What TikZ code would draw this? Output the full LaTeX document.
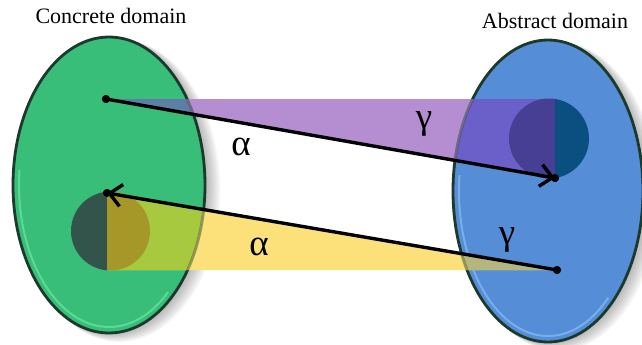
\documentclass[tikz,border=0pt]{standalone}
\usepackage{fontspec}
\setmainfont{Liberation Serif}
\usetikzlibrary{arrows.meta,shapes.geometric}
\definecolor{cgreen}{HTML}{39BE7A}
\definecolor{cblue}{HTML}{558DD6}
\definecolor{cout}{HTML}{1C3A2B}
\definecolor{rimgreen}{HTML}{72EDAA}
\definecolor{rimblue}{HTML}{8FC6FA}
\definecolor{purpW}{HTML}{B48ED1}
\definecolor{purpB}{HTML}{6B5FC9}
\definecolor{purpG}{HTML}{5E7EA6}
\definecolor{yelW}{HTML}{FCE079}
\definecolor{yelB}{HTML}{B5B57E}
\definecolor{yelG}{HTML}{A6C93F}
\definecolor{circPurp}{HTML}{463F94}
\definecolor{circBlue}{HTML}{0B4F80}
\definecolor{circDkGreen}{HTML}{33544A}
\definecolor{circOlive}{HTML}{A59828}
\tikzset{
  domainbox/.style={ellipse, draw=cout, line width=2.8pt, inner sep=0pt},
  dot/.style={circle, fill=black, inner sep=0pt, minimum size=8pt},
  arr/.style={line width=3.4pt, -{Straight Barb[length=12pt,width=22pt,line width=3.4pt]}},
  greek/.style={font=\fontsize{37}{37}\selectfont, inner sep=0pt},
  title/.style={font=\fontsize{22}{22}\selectfont, inner sep=0pt, anchor=base}
}
\begin{document}
\begin{tikzpicture}[x=1pt,y=-1pt]
\useasboundingbox (0,0) rectangle (642,345);
% shadows
\foreach \i in {1,...,8}{
  \fill[black,opacity=0.04] ({109+1.3*\i},{185+0.7*\i}) ellipse [x radius={96pt+0.6pt*\i}, y radius={148pt+0.4pt*\i}];
  \fill[black,opacity=0.04] ({548+1.3*\i},{191+0.7*\i}) ellipse [x radius={95pt+0.6pt*\i}, y radius={151pt+0.4pt*\i}];
}
% domains
\node[domainbox, fill=cgreen, minimum width=192pt, minimum height=296pt] (C) at (109,185) {};
\node[domainbox, fill=cblue, minimum width=190pt, minimum height=302pt] (A) at (548,191) {};
% rims
\begin{scope}
  \clip (0,170) -- (60,170) -- (215,345) -- (0,345) -- cycle;
  \draw[rimgreen, line width=2pt, opacity=0.6] (109,185) ellipse [x radius=90pt, y radius=142pt];
\end{scope}
\begin{scope}
  \clip (430,175) -- (500,175) -- (650,345) -- (430,345) -- cycle;
  \draw[rimblue, line width=2pt, opacity=0.6] (548,191) ellipse [x radius=89pt, y radius=145pt];
\end{scope}
% points
\node[dot] (a1) at (106,99) {};
\node[dot] (g1) at (555,178) {};
\node[dot] (a2) at (107,193) {};
\node[dot] (g2) at (557,270) {};
% purple band
\fill[purpW] (a1.center) -- (g1.center |- a1.center) -- (g1.center) -- cycle;
\begin{scope}
  \clip (548,191) ellipse [x radius=94pt, y radius=150pt];
  \fill[purpB] (a1.center) -- (g1.center |- a1.center) -- (g1.center) -- cycle;
\end{scope}
\begin{scope}
  \clip (109,185) ellipse [x radius=95pt, y radius=147pt];
  \fill[purpG] (a1.center) -- (g1.center |- a1.center) -- (g1.center) -- cycle;
\end{scope}
% yellow band
\fill[yelW] (a2.center) -- (g2.center) -- (a2.center |- g2.center) -- cycle;
\begin{scope}
  \clip (548,191) ellipse [x radius=94pt, y radius=150pt];
  \fill[yelB] (a2.center) -- (g2.center) -- (a2.center |- g2.center) -- cycle;
\end{scope}
\begin{scope}
  \clip (109,185) ellipse [x radius=95pt, y radius=147pt];
  \fill[yelG] (a2.center) -- (g2.center) -- (a2.center |- g2.center) -- cycle;
\end{scope}
% outlines seen through bands
\begin{scope}
  \clip (a1.center) -- (g1.center |- a1.center) -- (g1.center) -- cycle
        (a2.center) -- (g2.center) -- (a2.center |- g2.center) -- cycle;
  \draw[cout, line width=2.8pt, opacity=0.45] (109,185) ellipse [x radius=96pt, y radius=148pt];
  \draw[cout, line width=2.8pt, opacity=0.45] (548,191) ellipse [x radius=95pt, y radius=151pt];
\end{scope}
% half circles
\begin{scope}
  \clip (400,80) rectangle (g1.center |- 0,200);
  \fill[circPurp] (549,138.5) circle [radius=40pt];
\end{scope}
\begin{scope}
  \clip (g1.center |- 0,80) rectangle (620,200);
  \fill[circBlue] (549,138.5) circle [radius=40pt];
\end{scope}
\begin{scope}
  \clip (40,180) rectangle (a2.center |- 0,290);
  \fill[circDkGreen] (110.5,231) circle [radius=39.5pt];
\end{scope}
\begin{scope}
  \clip (a2.center |- 0,180) rectangle (170,290);
  \fill[circOlive] (110.5,231) circle [radius=39.5pt];
\end{scope}
% arrows
\draw[arr] (a1.center) -- (g1.center);
\draw[arr] (g2.center) -- (a2.center);
\node[dot] at (a1) {};
\node[dot] at (g1) {};
\node[dot] at (a2) {};
\node[dot] at (g2) {};
% labels
\node[greek] (la1) at (241,147) {α};
\node[greek] (lg1) at (424,124) {γ};
\node[greek] (la2) at (259,247) {α};
\node[greek] (lg2) at (507,240) {γ};
\node[title] (tc) at (111,24) {Concrete domain};
\node[title] (ta) at (555,29) {Abstract domain};
\end{tikzpicture}
\end{document}
